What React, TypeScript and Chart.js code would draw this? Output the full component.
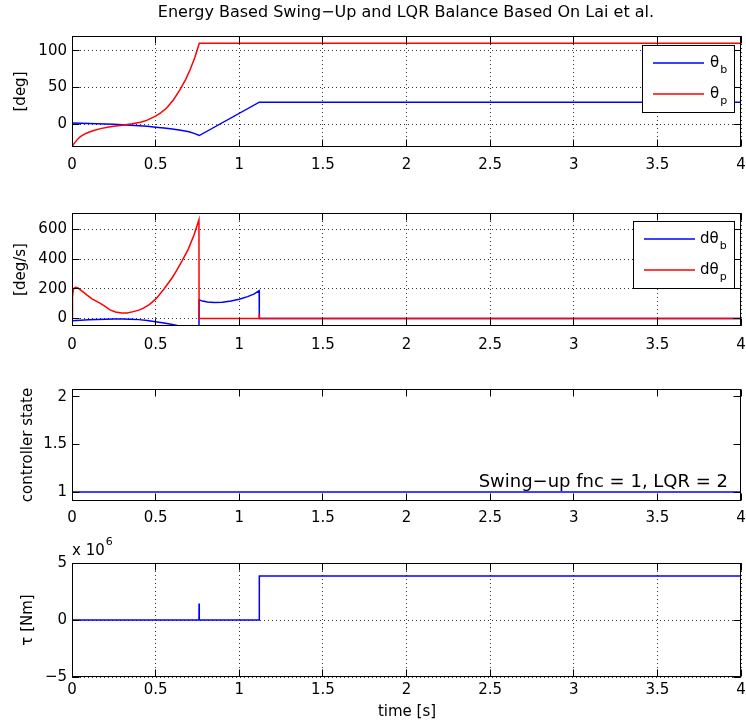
import React, { useEffect, useRef } from 'react';
import { Chart, registerables } from 'chart.js';

Chart.register(...registerables);

// ---------- text ----------
const TITLE = 'Energy Based Swing\u2212Up and LQR Balance Based On Lai et al.';
const X_LABEL = 'time [s]';
const ANNOTATION = 'Swing\u2212up fnc = 1, LQR = 2';
const Y_LABELS = ['[deg]', '[deg/s]', 'controller state', '\u03c4 [Nm]'];
const LEGEND1_MAIN = ['\u03b8', '\u03b8'];
const LEGEND1_SUB = ['b', 'p'];
const LEGEND2_MAIN = ['d\u03b8', 'd\u03b8'];
const LEGEND2_SUB = ['b', 'p'];

// ---------- ticks ----------
const xTickValues = [0, 0.5, 1, 1.5, 2, 2.5, 3, 3.5, 4];
const yTicks1 = [0, 50, 100];
const yTicks2 = [0, 200, 400, 600];
const yTicks3 = [1, 1.5, 2];
const yTicks4 = [-5, 0, 5];

// ---------- data ----------
// subplot 1: angles [deg]
const tThetaB = [0, 0.05, 0.1, 0.15, 0.2, 0.25, 0.3, 0.35, 0.4, 0.45, 0.5, 0.55, 0.6, 0.65, 0.7, 0.73, 0.761, 1.12, 4];
const thetaB = [1.5, 1.3, 1.0, 0.6, 0.3, -0.2, -0.8, -1.3, -2, -2.9, -4, -5.2, -6.5, -8.2, -10.2, -12.5, -15.4, 30, 30];
const tThetaP = [0, 0.01, 0.02, 0.035, 0.05, 0.075, 0.1, 0.13, 0.17, 0.22, 0.26, 0.3, 0.36, 0.41, 0.45, 0.5, 0.53, 0.566, 0.606, 0.646, 0.68, 0.706, 0.735, 0.761, 4];
const thetaP = [-31, -27, -24, -20, -17, -13.5, -11, -8.5, -6, -3.8, -2.4, -1.3, 0.5, 2.7, 5.5, 11, 15.5, 22, 33, 47, 61, 74, 91, 110, 110];

// subplot 2: angular rates [deg/s]
const tDThetaB = [0, 0.05, 0.1, 0.15, 0.2, 0.25, 0.3, 0.35, 0.4, 0.45, 0.5, 0.55, 0.6, 0.65, 0.7, 0.759, 0.76, 0.78, 0.81, 0.85, 0.9, 0.95, 1.0, 1.05, 1.09, 1.119, 1.12, 4];
const dThetaB = [-15, -11, -8, -5.5, -4, -3.3, -3, -4, -7, -13, -22, -30, -40, -52, -68, -85, 126, 118, 112, 108, 110, 118, 130, 148, 167, 189, 0, 0];
const tDThetaP = [0, 0.003, 0.008, 0.015, 0.024, 0.035, 0.05, 0.07, 0.088, 0.12, 0.167, 0.2, 0.227, 0.26, 0.297, 0.33, 0.367, 0.4, 0.427, 0.46, 0.502, 0.55, 0.6, 0.626, 0.66, 0.696, 0.73, 0.759, 0.76, 1.119, 1.12, 1.121, 4];
const dThetaP = [0, 150, 196, 207, 211, 206, 194, 177, 160, 133, 104, 80, 59, 45, 37, 38, 47, 57, 70, 93, 133, 200, 277, 325, 392, 470, 565, 667, 0, 0, 35, 0, 0];

// subplot 3: controller state
const tState = [0, 4];
const ctrlState = [1, 1];

// subplot 4: torque [x 10^6 Nm]
const tTau = [0, 0.759, 0.76, 0.761, 1.119, 1.12, 4];
const tau = [0, 0, 1.45, 0, 0, 3.85, 3.85];

// ---------- style ----------
const FONT = '"DejaVu Sans", "Liberation Sans", sans-serif';
const FS = 15;
const BLUE = '#0000ff';
const RED = '#ff0000';
const GRID = 'rgba(0,0,0,0.8)';
const W = 746;

const pts = (t: number[], v: number[]) => t.map((x, i) => ({ x, y: v[i] }));

interface DS { data: { x: number; y: number }[]; color: string; order: number }
interface Spec {
  top: number; height: number; areaTop: number; areaBottom: number;
  yMin: number; yMax: number; yTicks: number[]; yLabel: string; yLabelPad: number;
  xPad: number; grid: boolean; yFmt?: (v: number) => string;
  datasets: DS[];
  extra?: (ctx: CanvasRenderingContext2D, chart: any) => void;
}

function drawLegend(ctx: CanvasRenderingContext2D, bx: number, by: number, bw: number, bh: number,
  rowsY: number[], colors: string[], mains: string[], subs: string[], lx0: number, lx1: number, tx: number) {
  ctx.setLineDash([]);
  ctx.fillStyle = '#fff';
  ctx.fillRect(bx, by, bw, bh);
  ctx.strokeStyle = '#000';
  ctx.lineWidth = 1;
  ctx.strokeRect(bx + 0.5, by + 0.5, bw, bh);
  rowsY.forEach((y, i) => {
    ctx.strokeStyle = colors[i];
    ctx.lineWidth = 1.5;
    ctx.beginPath();
    ctx.moveTo(lx0, y);
    ctx.lineTo(lx1, y);
    ctx.stroke();
    ctx.fillStyle = '#000';
    ctx.textAlign = 'left';
    ctx.textBaseline = 'middle';
    ctx.font = `${FS}px ${FONT}`;
    ctx.fillText(mains[i], tx, y);
    const w1 = ctx.measureText(mains[i]).width;
    ctx.font = `11px ${FONT}`;
    ctx.fillText(subs[i], tx + w1 + 1, y + 7);
  });
}

function matlabPlugin(s: Spec) {
  return {
    id: 'matlabBox',
    afterDraw(chart: any) {
      const { ctx, chartArea: a, scales } = chart;
      const al = (p: number) => Math.round(p - 0.5) + 0.5;
      ctx.save();
      ctx.setLineDash([]);
      ctx.strokeStyle = '#000';
      ctx.lineWidth = 1;
      const L = 7;
      const l = al(a.left), r = al(a.right - 1), t = al(a.top), b = al(a.bottom - 1);
      ctx.beginPath();
      xTickValues.forEach((v) => {
        const x = al(scales.x.getPixelForValue(v));
        ctx.moveTo(x, t); ctx.lineTo(x, t + L);
        ctx.moveTo(x, b); ctx.lineTo(x, b - L);
      });
      s.yTicks.forEach((v) => {
        const y = al(scales.y.getPixelForValue(v));
        ctx.moveTo(l, y); ctx.lineTo(l + L, y);
        ctx.moveTo(r, y); ctx.lineTo(r - L, y);
      });
      ctx.stroke();
      ctx.strokeRect(l, t, r - l, b - t);
      if (s.extra) s.extra(ctx, chart);
      ctx.restore();
    },
  };
}

function buildConfig(s: Spec) {
  const xAxisH = s.height - s.areaBottom;
  return {
    type: 'line',
    data: {
      datasets: s.datasets.map((d) => ({
        data: d.data,
        borderColor: d.color,
        backgroundColor: d.color,
        borderWidth: 1.5,
        pointRadius: 0,
        tension: 0,
        fill: false,
        order: d.order,
      })),
    },
    options: {
      responsive: false,
      maintainAspectRatio: false,
      animation: false,
      events: [],
      layout: { padding: { left: 0, right: 5, top: s.areaTop, bottom: 0 } },
      plugins: { legend: { display: false }, tooltip: { enabled: false }, title: { display: false } },
      scales: {
        x: {
          type: 'linear',
          min: 0,
          max: 4,
          afterBuildTicks: (sc: any) => { sc.ticks = xTickValues.map((v) => ({ value: v })); },
          afterFit: (sc: any) => { sc.height = xAxisH; sc.paddingLeft = 0; sc.paddingRight = 0; },
          ticks: {
            color: '#000', font: { family: FONT, size: FS }, padding: s.xPad,
            maxRotation: 0, autoSkip: false, callback: (v: number) => String(v),
          },
          grid: { display: s.grid, drawTicks: false, color: GRID, lineWidth: 1 },
          border: { display: false, dash: [1, 3] },
        },
        y: {
          type: 'linear',
          min: s.yMin,
          max: s.yMax,
          afterBuildTicks: (sc: any) => { sc.ticks = s.yTicks.map((v) => ({ value: v })); },
          afterFit: (sc: any) => { sc.width = 72; sc.paddingTop = 0; sc.paddingBottom = 0; },
          ticks: {
            color: '#000', font: { family: FONT, size: FS }, padding: 5, autoSkip: false,
            callback: (v: number) => (s.yFmt ? s.yFmt(v) : String(v)),
          },
          grid: { display: s.grid, drawTicks: false, color: GRID, lineWidth: 1 },
          border: { display: false, dash: [1, 3] },
          title: {
            display: true, text: s.yLabel, color: '#000',
            font: { family: FONT, size: FS }, padding: { top: s.yLabelPad, bottom: 0 },
          },
        },
      },
    },
    plugins: [matlabPlugin(s)],
  };
}

const specs: Spec[] = [
  {
    top: 0, height: 180, areaTop: 36, areaBottom: 147,
    yMin: -31, yMax: 120, yTicks: yTicks1, yLabel: Y_LABELS[0], yLabelPad: 12, xPad: 9, grid: true,
    datasets: [
      { data: pts(tThetaP, thetaP), color: RED, order: 0 },
      { data: pts(tThetaB, thetaB), color: BLUE, order: 1 },
    ],
    extra: (ctx) => {
      ctx.fillStyle = '#000';
      ctx.font = `16px ${FONT}`;
      ctx.textAlign = 'center';
      ctx.textBaseline = 'middle';
      ctx.fillText(TITLE, 406, 13);
      drawLegend(ctx, 642, 45, 92, 67, [63, 94], [BLUE, RED], LEGEND1_MAIN, LEGEND1_SUB, 653, 704, 710);
    },
  },
  {
    top: 180, height: 180, areaTop: 33, areaBottom: 146,
    yMin: -50, yMax: 712, yTicks: yTicks2, yLabel: Y_LABELS[1], yLabelPad: 12, xPad: 10, grid: true,
    datasets: [
      { data: pts(tDThetaP, dThetaP), color: RED, order: 0 },
      { data: pts(tDThetaB, dThetaB), color: BLUE, order: 1 },
    ],
    extra: (ctx) => {
      drawLegend(ctx, 633, 41, 101, 67, [59, 90], [BLUE, RED], LEGEND2_MAIN, LEGEND2_SUB, 644, 695, 700);
    },
  },
  {
    top: 360, height: 170, areaTop: 29, areaBottom: 141,
    yMin: 0.906, yMax: 2.08, yTicks: yTicks3, yLabel: Y_LABELS[2], yLabelPad: 19, xPad: 8, grid: false,
    datasets: [{ data: pts(tState, ctrlState), color: BLUE, order: 0 }],
    extra: (ctx) => {
      ctx.fillStyle = '#000';
      ctx.font = `18px ${FONT}`;
      ctx.textAlign = 'right';
      ctx.textBaseline = 'alphabetic';
      ctx.fillText(ANNOTATION, 728, 127);
    },
  },
  {
    top: 530, height: 196, areaTop: 33, areaBottom: 147,
    yMin: -5, yMax: 5, yTicks: yTicks4, yLabel: Y_LABELS[3], yLabelPad: 19, xPad: 4, grid: true,
    yFmt: (v) => (v < 0 ? '\u2212' + Math.abs(v) : String(v)),
    datasets: [{ data: pts(tTau, tau), color: BLUE, order: 0 }],
    extra: (ctx) => {
      ctx.fillStyle = '#000';
      ctx.textAlign = 'left';
      ctx.textBaseline = 'alphabetic';
      ctx.font = `${FS}px ${FONT}`;
      ctx.fillText('x 10', 72, 25);
      const w = ctx.measureText('x 10').width;
      ctx.font = `11px ${FONT}`;
      ctx.fillText('6', 72 + w + 1, 15);
      ctx.font = `${FS}px ${FONT}`;
      ctx.textAlign = 'center';
      ctx.textBaseline = 'middle';
      ctx.fillText(X_LABEL, 407, 182);
    },
  },
];

function Subplot({ spec }: { spec: Spec }) {
  const ref = useRef<HTMLCanvasElement | null>(null);
  useEffect(() => {
    if (!ref.current) return;
    const chart = new Chart(ref.current, buildConfig(spec) as any);
    return () => chart.destroy();
  }, [spec]);
  return (
    <canvas
      ref={ref}
      width={W}
      height={spec.height}
      style={{ position: 'absolute', left: 0, top: spec.top, width: W, height: spec.height, display: 'block' }}
    />
  );
}

export default function App() {
  return (
    <div style={{ position: 'absolute', left: 0, top: 0, width: 746, height: 726, background: '#fff' }}>
      {specs.map((s, i) => (
        <Subplot key={i} spec={s} />
      ))}
    </div>
  );
}
